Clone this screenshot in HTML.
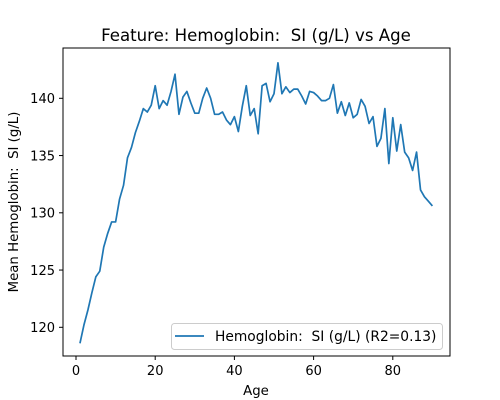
<!DOCTYPE html>
<html><head><meta charset="utf-8"><style>
body{margin:0;background:#fff}
svg{display:block;font-family:"DejaVu Sans","Liberation Sans",sans-serif}
text{white-space:pre}
</style></head><body>
<svg id="chart" width="500" height="400" viewBox="0 0 500 400">
<rect width="500" height="400" fill="#fff"/>
<text x="256" y="41" font-size="16.6" text-anchor="middle" xml:space="preserve">Feature: Hemoglobin:  SI (g/L) vs Age</text>
<g id="xt"></g>
<g id="yt"></g>
<polyline id="line" fill="none" stroke="#1f77b4" stroke-width="1.7" stroke-linejoin="round"/>
<rect x="63" y="48" width="387" height="308" fill="none" stroke="#000" stroke-width="1"/>
<text x="256" y="395" font-size="13.3" text-anchor="middle">Age</text>
<text transform="translate(18,202) rotate(-90)" font-size="13.3" text-anchor="middle" xml:space="preserve">Mean Hemoglobin:  SI (g/L)</text>
<g>
<rect x="171.5" y="323.5" width="271" height="26" rx="3" fill="#fff" stroke="#ccc"/>
<line x1="175" y1="336" x2="204" y2="336" stroke="#1f77b4" stroke-width="1.7"/>
<text x="215" y="341" font-size="13.8" xml:space="preserve">Hemoglobin:  SI (g/L) (R2=0.13)</text>
</g>
</svg>
<script>
const ages=[];for(let a=1;a<=90;a++)ages.push(a);
const values=[118.6,120.2,121.5,123,124.4,124.9,127,128.2,129.2,129.2,131.2,132.4,134.8,135.7,137,138,139.1,138.8,139.4,141.1,
139.1,139.8,139.4,140.6,142.1,138.6,140.1,140.6,139.6,138.7,138.7,140,140.9,140,138.6,138.6,138.8,138.1,137.7,138.4,
137.1,139.3,141.1,138.5,139.1,136.9,141.1,141.3,139.7,140.4,143.1,140.4,141,140.5,140.8,140.8,140.2,139.5,140.6,140.5,
140.2,139.8,139.8,140,141.2,138.7,139.7,138.5,139.6,138.3,138.6,139.9,139.3,137.8,138.4,135.8,136.5,139.1,134.3,138.3,
135.4,137.7,135.3,134.8,133.7,135.3,132,131.4,131,130.6];
const xTicks=[0,20,40,60,80];
const yTicks=[120,125,130,135,140];
const NS="http://www.w3.org/2000/svg";
const xs=v=>76+v*3.96;
const ys=v=>98.3+(140-v)*11.45;
document.getElementById('line').setAttribute('points',ages.map((a,i)=>xs(a)+','+ys(values[i])).join(' '));
const xt=document.getElementById('xt'),yt=document.getElementById('yt');
xTicks.forEach(t=>{
 const l=document.createElementNS(NS,'line');
 
 
 l.setAttribute('x1',xs(t));l.setAttribute('x2',xs(t));l.setAttribute('y1',356);l.setAttribute('y2',360);l.setAttribute('stroke','#000');
 xt.appendChild(l);
 const tx=document.createElementNS(NS,'text');
 
 
 tx.setAttribute('x',xs(t));tx.setAttribute('y',375);tx.setAttribute('font-size','13');tx.setAttribute('text-anchor','middle');
 tx.textContent=t;xt.appendChild(tx);
});
yTicks.forEach(t=>{
 const l=document.createElementNS(NS,'line');
 
 
 l.setAttribute('x1',59);l.setAttribute('x2',63);l.setAttribute('y1',ys(t));l.setAttribute('y2',ys(t));l.setAttribute('stroke','#000');
 yt.appendChild(l);
 const tx=document.createElementNS(NS,'text');
 
 
 tx.setAttribute('x',55);tx.setAttribute('y',ys(t)+4.7);tx.setAttribute('font-size','13');tx.setAttribute('text-anchor','end');
 tx.textContent=t;yt.appendChild(tx);
});
</script>
</body></html>
